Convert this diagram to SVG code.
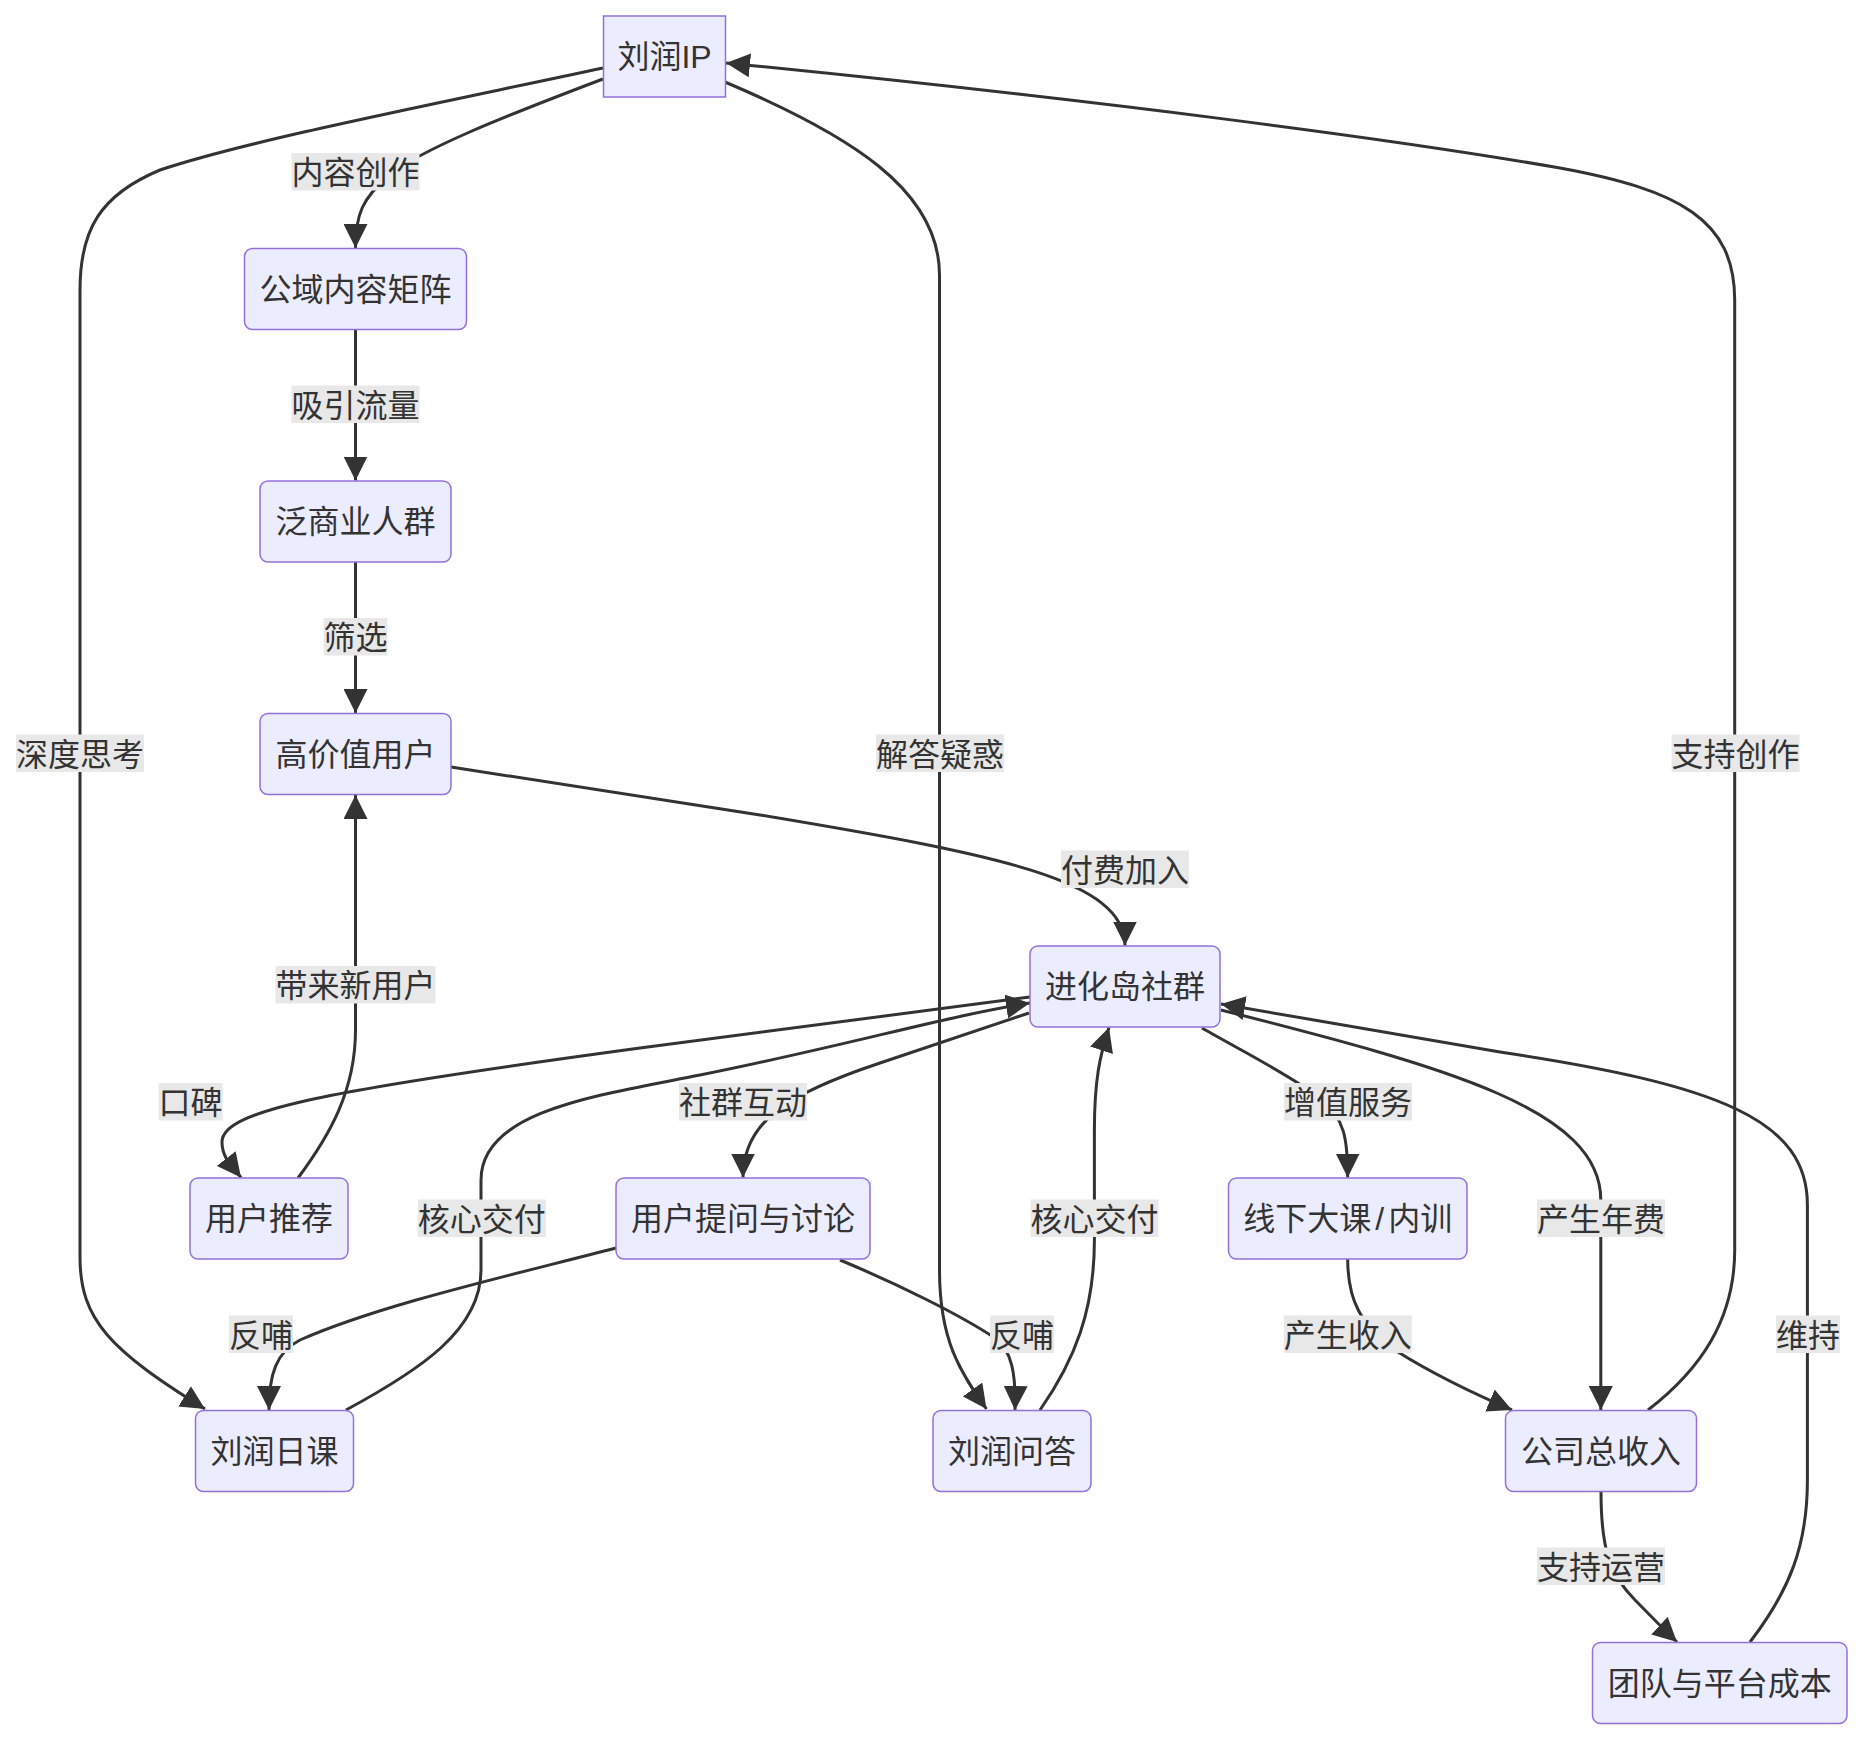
<svg xmlns="http://www.w3.org/2000/svg" width="1864" height="1742" viewBox="0 0 1864 1742">
<style>
.node rect{fill:#ECECFF;stroke:#9370DB;stroke-width:1.5}
.t{font-family:"Liberation Sans","Noto Sans CJK SC",sans-serif;font-size:32px;fill:#333;text-anchor:middle;dominant-baseline:central}
.edge{fill:none;stroke:#333;stroke-width:3}
.lbl rect{fill:#E8E8E8}
</style>
<defs>
<marker id="arr" viewBox="0 0 10 10" refX="10" refY="5" markerUnits="userSpaceOnUse" markerWidth="24" markerHeight="24" orient="auto">
<path d="M0,0 L10,5 L0,10 z" fill="#333"/>
</marker>
</defs>
<rect width="1864" height="1742" fill="#fff"/>
<g id="connectors">
<path class="edge" marker-end="url(#arr)" d="M603,79 C 500,118 420,150 390,175 C 362,198 355.5,215 355.5,248"/>
<path class="edge" marker-end="url(#arr)" d="M603,68 C 430,105 250,140 160,170 C 100,195 80,230 80,290 L80,1257 C80,1320 110,1350 205,1409"/>
<path class="edge" marker-end="url(#arr)" d="M725,82 C 850,135 939.5,190 939.5,275 L939.5,1270 C939.5,1340 960,1372 986.5,1409"/>
<path class="edge" marker-end="url(#arr)" d="M355.5,329.5 L355.5,480.5"/>
<path class="edge" marker-end="url(#arr)" d="M355.5,562 L355.5,713"/>
<path class="edge" marker-end="url(#arr)" d="M451,767 L760,815 C 1000,855 1125,880 1125,945.5"/>
<path class="edge" marker-end="url(#arr)" d="M1030,997 L640,1048 C 330,1090 222,1110 222,1142 C 222,1158 232,1166 241,1177.5"/>
<path class="edge" marker-end="url(#arr)" d="M1029,1013 L880,1063 C 790,1093 743,1120 743,1177.5"/>
<path class="edge" marker-end="url(#arr)" d="M298,1178 C 330,1135 355.5,1090 355.5,1030 L355.5,795"/>
<path class="edge" marker-end="url(#arr)" d="M346,1410 C 420,1370 481,1330 481,1270 L481,1180 C 481,1110 600,1095 700,1075 C 850,1045 950,1015 1030,1003"/>
<path class="edge" marker-end="url(#arr)" d="M616,1248 C 500,1278 380,1305 300,1340 C 276,1352 269,1375 269,1410"/>
<path class="edge" marker-end="url(#arr)" d="M840,1260 C 900,1285 960,1315 995,1338 C 1012,1350 1016,1375 1015,1410"/>
<path class="edge" marker-end="url(#arr)" d="M1040,1410 C 1075,1360 1094.4,1310 1094.4,1240 L1094.4,1130 C 1094.4,1080 1100,1055 1109,1027.5"/>
<path class="edge" marker-end="url(#arr)" d="M1202,1028 C 1240,1050 1290,1075 1320,1098 C 1345,1118 1347.7,1140 1347.7,1177.5"/>
<path class="edge" marker-end="url(#arr)" d="M1221,1010 C 1450,1068 1600.8,1110 1600.8,1200 L1600.8,1410"/>
<path class="edge" marker-end="url(#arr)" d="M1750,1642 C 1790,1590 1807.4,1545 1807.4,1480 L1807.4,1205 C 1807.4,1120 1720,1085 1500,1052 L1221,1004"/>
<path class="edge" marker-end="url(#arr)" d="M1648,1410 C 1700,1370 1734.7,1320 1734.7,1250 L1734.7,300 C 1734.7,220 1680,190 1560,168 C 1400,140 1100,100 726,63"/>
<path class="edge" marker-end="url(#arr)" d="M1347.7,1259 C 1347.7,1300 1360,1325 1398,1352 C 1430,1372 1470,1392 1512,1410"/>
<path class="edge" marker-end="url(#arr)" d="M1601,1491.5 C 1601,1550 1610,1575 1635,1600 C 1650,1615 1662,1628 1677,1642"/>
</g>
<g id="edge-labels">
<g class="lbl"><rect x="291.5" y="153" width="128" height="37.5"/><text class="t" x="355.5" y="173">内容创作</text></g>
<g class="lbl"><rect x="16" y="734.5" width="128" height="37.5"/><text class="t" x="80" y="754.5">深度思考</text></g>
<g class="lbl"><rect x="876" y="734.5" width="128" height="37.5"/><text class="t" x="940" y="754.5">解答疑惑</text></g>
<g class="lbl"><rect x="1671.6" y="734.5" width="128" height="37.5"/><text class="t" x="1735.6" y="754.5">支持创作</text></g>
<g class="lbl"><rect x="291.5" y="385.5" width="128" height="37.5"/><text class="t" x="355.5" y="405.5">吸引流量</text></g>
<g class="lbl"><rect x="323.5" y="618" width="64" height="37.5"/><text class="t" x="355.5" y="638">筛选</text></g>
<g class="lbl"><rect x="1061" y="850.5" width="128" height="37.5"/><text class="t" x="1125" y="870.5">付费加入</text></g>
<g class="lbl"><rect x="275.5" y="966" width="160" height="37.5"/><text class="t" x="355.5" y="986">带来新用户</text></g>
<g class="lbl"><rect x="158.6" y="1083" width="64" height="37.5"/><text class="t" x="190.6" y="1103">口碑</text></g>
<g class="lbl"><rect x="679" y="1083" width="128" height="37.5"/><text class="t" x="743" y="1103">社群互动</text></g>
<g class="lbl"><rect x="1284" y="1083" width="128" height="37.5"/><text class="t" x="1348" y="1103">增值服务</text></g>
<g class="lbl"><rect x="417.8" y="1199.5" width="128" height="37.5"/><text class="t" x="481.8" y="1219.5">核心交付</text></g>
<g class="lbl"><rect x="1030.5" y="1199.5" width="128" height="37.5"/><text class="t" x="1094.5" y="1219.5">核心交付</text></g>
<g class="lbl"><rect x="1537" y="1199.5" width="128" height="37.5"/><text class="t" x="1601" y="1219.5">产生年费</text></g>
<g class="lbl"><rect x="229" y="1315.5" width="64" height="37.5"/><text class="t" x="261" y="1335.5">反哺</text></g>
<g class="lbl"><rect x="990" y="1315.5" width="64" height="37.5"/><text class="t" x="1022" y="1335.5">反哺</text></g>
<g class="lbl"><rect x="1283.8" y="1315.5" width="128" height="37.5"/><text class="t" x="1347.8" y="1335.5">产生收入</text></g>
<g class="lbl"><rect x="1776" y="1315.5" width="64" height="37.5"/><text class="t" x="1808" y="1335.5">维持</text></g>
<g class="lbl"><rect x="1537" y="1547.5" width="128" height="37.5"/><text class="t" x="1601" y="1567.5">支持运营</text></g>
</g>
<g id="n-ip" class="node"><rect x="603.5" y="16" width="122" height="81"/><text class="t" x="664.5" y="57">刘润IP</text></g>
<g id="n-public" class="node"><rect x="244.5" y="248.5" width="222" height="81" rx="8"/><text class="t" x="355.5" y="289.5">公域内容矩阵</text></g>
<g id="n-crowd" class="node"><rect x="260" y="481" width="191" height="81" rx="8"/><text class="t" x="355.5" y="522">泛商业人群</text></g>
<g id="n-hv" class="node"><rect x="260" y="713.5" width="191" height="81" rx="8"/><text class="t" x="355.5" y="754.5">高价值用户</text></g>
<g id="n-island" class="node"><rect x="1030" y="946" width="190" height="81" rx="8"/><text class="t" x="1125" y="987">进化岛社群</text></g>
<g id="n-referral" class="node"><rect x="190" y="1178" width="158" height="81" rx="8"/><text class="t" x="269" y="1219">用户推荐</text></g>
<g id="n-qa-discuss" class="node"><rect x="616" y="1178" width="254" height="81" rx="8"/><text class="t" x="743" y="1219">用户提问与讨论</text></g>
<g id="n-offline" class="node"><rect x="1228.5" y="1178" width="238.5" height="81" rx="8"/><text class="t" x="1347.7" y="1219">线下大课<tspan dx="4">/</tspan><tspan dx="4">内训</tspan></text></g>
<g id="n-daily" class="node"><rect x="195.5" y="1410.5" width="158" height="81" rx="8"/><text class="t" x="274.5" y="1451.5">刘润日课</text></g>
<g id="n-answers" class="node"><rect x="933" y="1410.5" width="158" height="81" rx="8"/><text class="t" x="1012" y="1451.5">刘润问答</text></g>
<g id="n-revenue" class="node"><rect x="1505.5" y="1410.5" width="191" height="81" rx="8"/><text class="t" x="1601" y="1451.5">公司总收入</text></g>
<g id="n-cost" class="node"><rect x="1592.5" y="1642.5" width="254.5" height="81" rx="8"/><text class="t" x="1719.7" y="1683.5">团队与平台成本</text></g>
</svg>
